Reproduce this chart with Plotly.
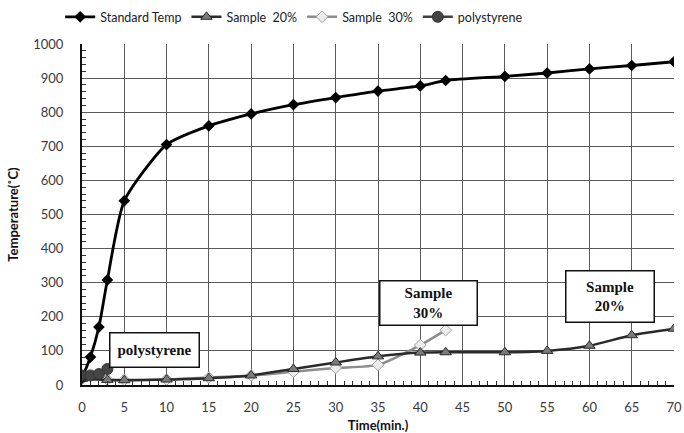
import plotly.graph_objects as go

std_t = [0, 1, 2, 3, 5, 10, 15, 20, 25, 30, 35, 40, 43, 50, 55, 60, 65, 70]
std_v = [20, 82, 170, 308, 540, 705, 760, 795, 822, 843, 862, 877, 893, 905, 915, 927, 937, 948]

s20_t = [0, 3, 5, 10, 15, 20, 25, 30, 35, 40, 43, 50, 55, 60, 65, 70]
s20_v = [18, 15, 14, 16, 20, 28, 47, 66, 84, 95, 96, 96, 100, 115, 146, 165]

s30_t = [0, 3, 5, 10, 15, 20, 25, 30, 35, 40, 43]
s30_v = [18, 16, 15, 16, 22, 28, 39, 50, 59, 117, 161]

ps_t = [0, 1, 2, 3]
ps_v = [28, 28, 32, 47]

font_tick = "Lato, Carlito, Liberation Sans"

fig = go.Figure()
fig.add_trace(go.Scatter(x=s30_t, y=s30_v, name="Sample  30%", mode="lines+markers",
                         line=dict(color="#8c8c8c", width=2.5, shape="spline", smoothing=0.6),
                         marker=dict(symbol="diamond", size=9, color="#ececec",
                                     line=dict(color="#a0a0a0", width=1))))
fig.add_trace(go.Scatter(x=s20_t, y=s20_v, name="Sample  20%", mode="lines+markers",
                         line=dict(color="#2a2a2a", width=2.5, shape="spline", smoothing=0.6),
                         marker=dict(symbol="triangle-up", size=10, color="#7a7a7a",
                                     line=dict(color="#2a2a2a", width=1))))
fig.add_trace(go.Scatter(x=std_t, y=std_v, name="Standard Temp", mode="lines+markers",
                         line=dict(color="#000000", width=2.8, shape="spline", smoothing=0.6),
                         marker=dict(symbol="diamond", size=9, color="#000000")))
fig.add_trace(go.Scatter(x=ps_t, y=ps_v, name="polystyrene", mode="lines+markers",
                         line=dict(color="#404040", width=2.5, shape="spline"),
                         marker=dict(symbol="circle", size=11, color="#454545",
                                     line=dict(color="#333333", width=1))))

ann_font = dict(family="Liberation Serif, Times New Roman", size=15, color="#111111")
for txt, x, y, w, h in [("<b>polystyrene</b>", 8.6, 103, 86, 31),
                        ("<b>Sample<br>30%</b>", 41.0, 240, 94, 41),
                        ("<b>Sample<br>20%</b>", 62.4, 261, 85, 48)]:
    fig.add_annotation(x=x, y=y, text=txt, showarrow=False, font=ann_font,
                       bgcolor="white", bordercolor="#111111", borderwidth=1.5,
                       width=w, height=h, borderpad=1)

fig.update_layout(
    width=684, height=433,
    margin=dict(l=82, r=10, t=44, b=48, autoexpand=False),
    paper_bgcolor="white", plot_bgcolor="white",
    font=dict(family=font_tick, size=13, color="#3a3a3a"),
    legend=dict(orientation="h", x=0.088, xanchor="left", y=0.995, yanchor="top",
                yref="container", xref="container",
                traceorder="normal", font=dict(size=12.5, color="#222222"),
                itemwidth=30, bgcolor="rgba(0,0,0,0)"),
    showlegend=True,
)
fig.data[2].legendrank = 1
fig.data[1].legendrank = 2
fig.data[0].legendrank = 3
fig.data[3].legendrank = 4

fig.update_xaxes(range=[0, 70], dtick=5, tick0=0, showgrid=True, gridcolor="#5a5a5a", gridwidth=1,
                 showline=True, linecolor="#111111", linewidth=2, mirror=False,
                 ticks="", ticklabelstandoff=9, zeroline=False, automargin=False,
                 minor=dict(dtick=1, ticks="inside", ticklen=4, tickcolor="#333333", showgrid=False),
                 title=dict(text="<b>Time(min.)</b>", font=dict(size=13, color="#111111"), standoff=8))
fig.update_yaxes(range=[0, 1000], dtick=100, showgrid=True, gridcolor="#5a5a5a", gridwidth=1,
                 showline=True, linecolor="#111111", linewidth=2,
                 ticks="", ticklabelstandoff=14, zeroline=False, automargin=False,
                 minor=dict(dtick=20, ticks="inside", ticklen=4, tickcolor="#333333", showgrid=False),
                 title=dict(text="<b>Temperature(˚C)</b>", font=dict(size=13, color="#111111"), standoff=12))

fig.write_html("out.html", config={"displayModeBar": False},
               post_script="document.body.style.margin='0';document.body.style.overflow='hidden';")
